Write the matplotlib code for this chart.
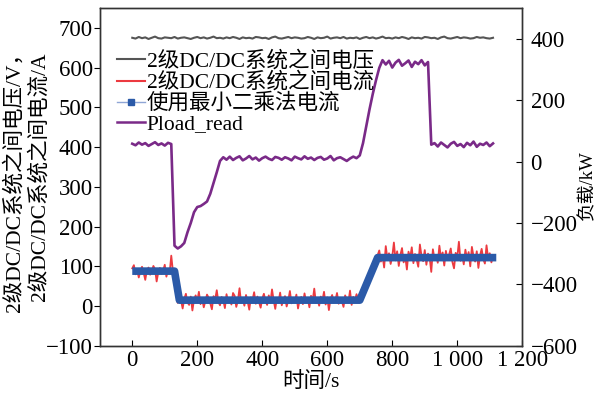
import numpy as np
import matplotlib
matplotlib.use('Agg')
import matplotlib.pyplot as plt
from matplotlib.lines import Line2D

plt.rcParams['font.family'] = ['Liberation Serif', 'Noto Sans CJK SC']
plt.rcParams['axes.unicode_minus'] = True

# time bases
t10 = np.arange(0, 1111, 10)
t5 = np.arange(0, 1111, 5)

# 2级DC/DC系统之间电压 (V)
volt = [675, 673, 677, 674, 676, 672, 675, 678, 674, 673, 676, 675, 674, 677, 673, 675, 676, 674, 672, 675,
        677, 674, 676, 673, 675, 678, 674, 675, 673, 676, 674, 677, 675, 672, 676, 674, 675, 673, 677, 676,
        674, 675, 672, 676, 678, 674, 673, 675, 677, 674, 676, 675, 673, 674, 677, 675, 672, 676, 674, 675,
        678, 673, 675, 676, 674, 677, 673, 675, 674, 676, 672, 675, 677, 674, 676, 673, 675, 678, 674, 675,
        673, 676, 674, 677, 675, 672, 676, 674, 675, 673, 677, 676, 674, 675, 672, 676, 678, 674, 673, 675,
        677, 674, 676, 675, 673, 674, 677, 675, 676, 674, 673, 675]

# 2级DC/DC系统之间电流 (A)
curr = [95, 103, 80, 92, 72, 88, 99, 84, 66, 90, 97, 79, 87, 101, 93, 62, 85, 96, 81, 89, 104, 74, 91, 83, 127, 88,
        60, 32, 8,
        22, 14, -6, 18, 31, 9, 3, 24, -11, 16, 27, 12, 36, 5, 19, -3, 13, 29, 21, 7,
        -8, 25, 17, 40, 10, 2, 23, 15, -5, 30, 11, 20, 4, 33, 26, -2, 14, 45, 8, 18,
        1, 28, 12, -9, 22, 16, 35, 6, 24, 10, -4, 19, 31, 13, 3, 27, 9, 42, 15, -7,
        21, 11, 34, 2, 17, 25, -1, 14, 38, 7, 20, 12, 29, -6, 16, 23, 5, 32, 11, 19,
        -3, 26, 13, 44, 8, 17, 1, 24, 14, 36, 4, 22, -10, 18, 28, 9, 15, 33, 6, 21,
        12, -2, 27, 16, 10, 39, 3, 23, 14, 30, 18,
        24, 40, 33, 55, 49, 71, 66, 90, 83, 106, 98, 128,
        140, 112, 128, 97, 151, 119, 133, 106, 125, 160, 115, 138, 101, 129, 146, 110, 124, 92, 137, 121,
        148, 108, 131, 117, 99, 155, 126, 113, 141, 104, 132, 122, 86, 143, 118, 127, 109, 152, 120, 135,
        102, 139, 116, 130, 145, 111, 95, 134, 123, 162, 114, 128, 105, 142, 119, 136, 100, 149, 125, 112,
        138, 96, 127, 144, 118, 107, 153, 121, 133, 110, 126]

# 使用最小二乘法电流 (A)
ls_t = [0, 130, 145, 700, 755, 1120]
ls_i = [88, 88, 15, 15, 122, 122]

# Pload_read (kW)
pload = [58, 53, 62, 55, 60, 51, 57, 63, 54, 59, 52, 61, 57,
         -274, -283, -276,
         -265, -230, -200, -165, -148, -145, -138, -130, -105, -70, -35, 2,
         14, 6, 16, 5, 12, 17, 4, 10, 18, 7, 13, 3, 11, 16, 9, 5, 15, 12, 6, 14,
         10, 4, 16, 11, 7, 17, 9, 13, 5, 12, 15, 6, 10, 18, 4, 11, 14, 8, 2, 10, 16, 11,
         20, 60, 115, 170, 220, 265, 305, 330,
         316, 328, 306, 322, 331, 312, 320, 329, 308, 325, 317, 330, 313, 324,
         55,
         60, 49, 62, 54, 46, 58, 64, 51, 57, 47, 61, 53, 65, 48, 58, 54, 62, 50, 59]

xticks = [0, 200, 400, 600, 800, 1000, 1200]
xlabels = ['0', '200', '400', '600', '800', '1 000', '1 200']
yticks_l = [-100, 0, 100, 200, 300, 400, 500, 600, 700]
yticks_r = [-600, -400, -200, 0, 200, 400]

fig = plt.figure(figsize=(6.01, 3.98), dpi=100)
ax = fig.add_axes([0.166, 0.131, 0.703, 0.849])
ax2 = ax.twinx()

c_v, c_i, c_ls, c_p = '#555555', '#ec3a40', '#2b5aa8', '#7a2a88'

ax.plot(t10, volt, color=c_v, lw=1.5)
ax.plot(t5, curr, color=c_i, lw=1.3)
ax.plot(ls_t, ls_i, color=c_ls, lw=5.5, solid_capstyle='butt')
ax2.plot(t10, pload, color=c_p, lw=1.9)

ax.set_xlim(-100, 1200)
ax.set_ylim(-100, 750)
ax2.set_ylim(-600, 500)
ax.set_xticks(xticks)
ax.set_xticklabels(xlabels)
ax.set_yticks(yticks_l)
ax2.set_yticks(yticks_r)

ax.tick_params(axis='y', direction='out', labelsize=16.5, length=4, pad=1)
ax.tick_params(axis='x', direction='in', labelsize=16.5, length=4, pad=3)
ax2.tick_params(axis='y', direction='in', labelsize=16.5, length=4, pad=6)
for a in (ax, ax2):
    for s in a.spines.values():
        s.set_color('#333333')
        s.set_linewidth(1.0)

ax.set_xlabel('时间/s', fontsize=15.5, labelpad=1)
ax.set_ylabel('2级DC/DC系统之间电压/V，\n2级DC/DC系统之间电流/A', fontsize=15.5,
              linespacing=1.3)
ax.yaxis.set_label_coords(-0.118, 0.50)
ax2.set_ylabel('负载/kW', fontsize=13.5)
ax2.yaxis.set_label_coords(1.135, 0.476)

handles = [Line2D([], [], color=c_v, lw=1.5),
           Line2D([], [], color=c_i, lw=1.5),
           Line2D([], [], color='#8fa6d6', lw=1.0, marker='s', ms=5,
                  markerfacecolor=c_ls, markeredgecolor=c_ls),
           Line2D([], [], color=c_p, lw=1.8)]
labels = ['2级DC/DC系统之间电压', '2级DC/DC系统之间电流', '使用最小二乘法电流', 'Pload_read']
ax2.legend(handles, labels, loc='upper left', bbox_to_anchor=(0.04, 0.872),
           frameon=False, fontsize=15.5, handlelength=1.3, handletextpad=0.1,
           labelspacing=0.02, borderaxespad=0, borderpad=0)

fig.savefig('out.png', dpi=100)
